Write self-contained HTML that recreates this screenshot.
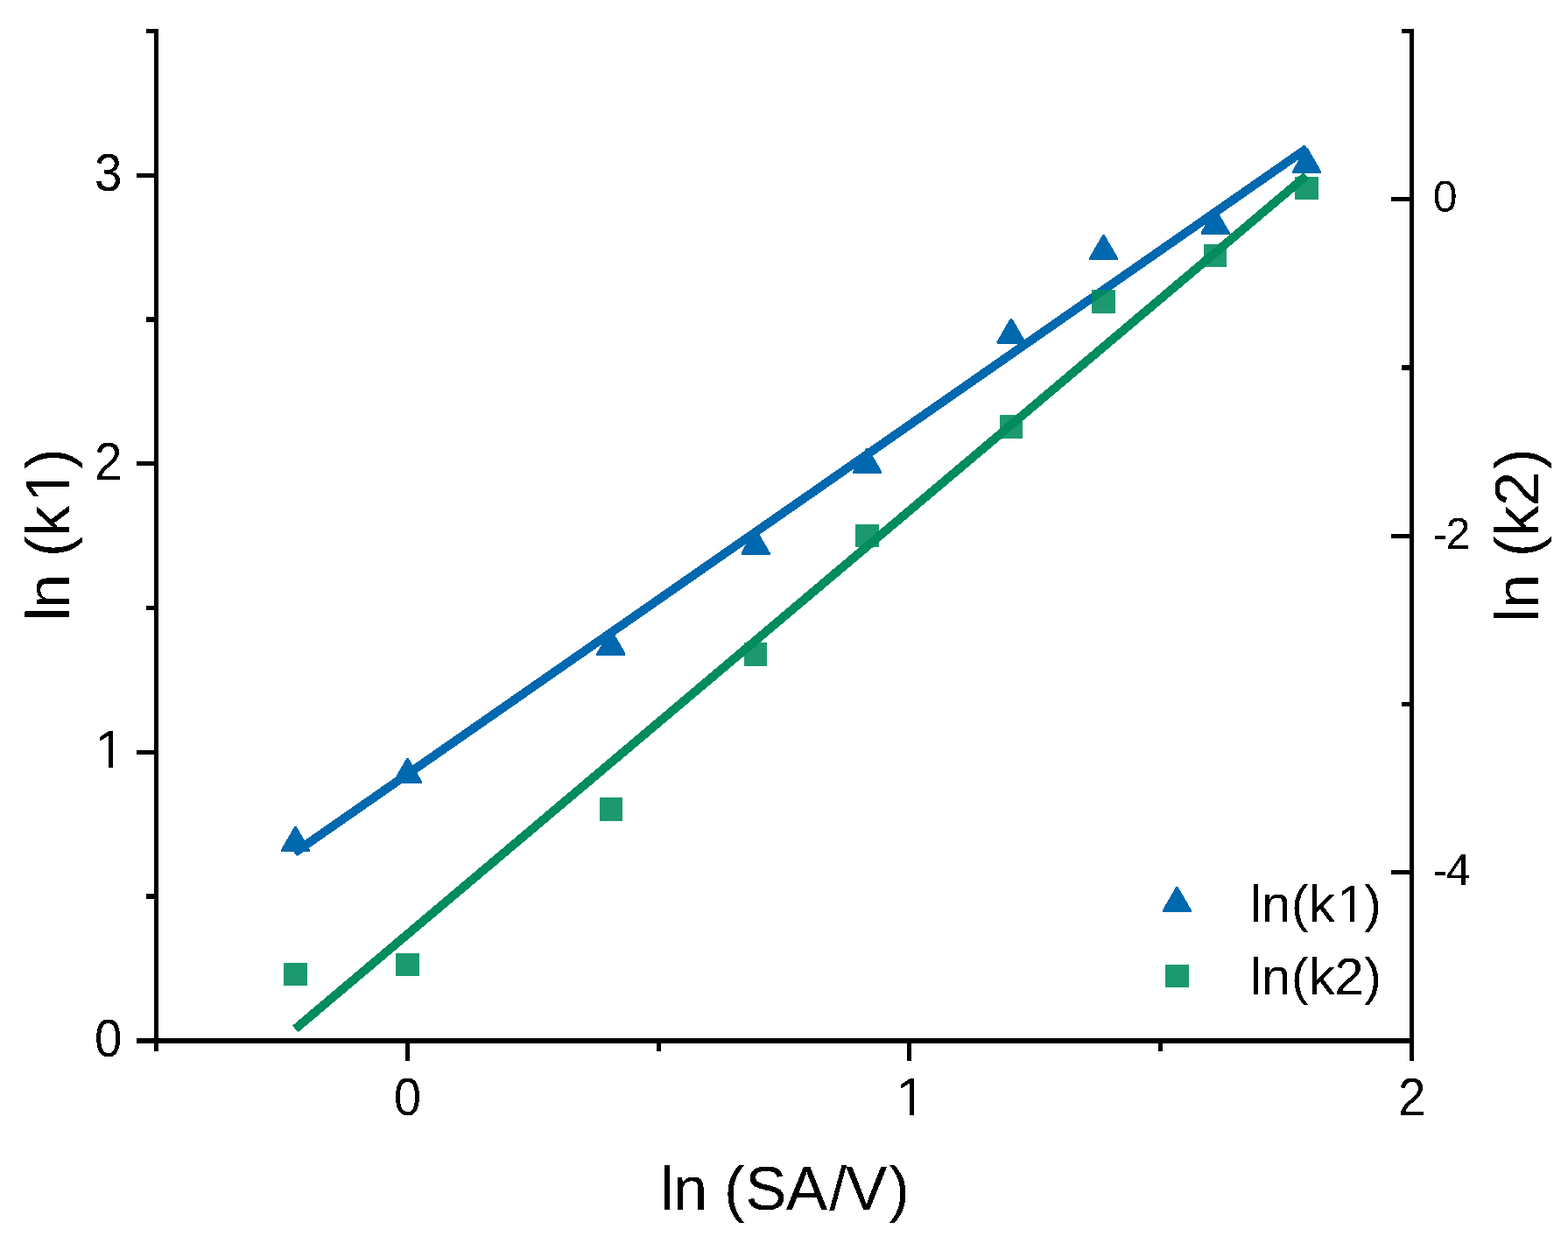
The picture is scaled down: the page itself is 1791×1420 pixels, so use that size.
<!DOCTYPE html>
<html lang="en"><head><meta charset="utf-8"><title>ln(k) vs ln(SA/V)</title>
<style>html,body{margin:0;padding:0;background:#fff;}body{width:1791px;height:1420px;overflow:hidden;}svg{display:block;}text{font-family:"Liberation Sans",Arial,Helvetica,sans-serif;fill:#000;}</style>
</head><body>
<svg width="1791" height="1420" viewBox="0 0 1791 1420" role="img" aria-label="ln(k1) and ln(k2) versus ln(SA/V)">
<defs><filter id="crisp" x="-10%" y="-10%" width="120%" height="120%" color-interpolation-filters="sRGB"><feComponentTransfer><feFuncA type="discrete" tableValues="0 1"/></feComponentTransfer></filter></defs>
<rect x="0" y="0" width="1791" height="1420" fill="#fff"/>
<g id="series-k1" shape-rendering="crispEdges">
<line x1="336.3" y1="974.3" x2="1493.0" y2="169.4" stroke="#0068AE" stroke-width="10" stroke-linecap="butt"/>
<polygon points="321.0,973.0 321.0,970.7 336.5,943.9 338.5,943.9 354.0,970.7 354.0,973.0" fill="#0068AE"/>
<polygon points="449.0,895.0 449.0,892.7 464.5,865.9 466.5,865.9 482.0,892.7 482.0,895.0" fill="#0068AE"/>
<polygon points="681.4,748.7 681.4,746.4 696.9,719.6 698.9,719.6 714.4,746.4 714.4,748.7" fill="#0068AE"/>
<polygon points="846.5,633.7 846.5,631.4 862.0,604.6 864.0,604.6 879.5,631.4 879.5,633.7" fill="#0068AE"/>
<polygon points="974.0,540.7 974.0,538.4 989.5,511.6 991.5,511.6 1007.0,538.4 1007.0,540.7" fill="#0068AE"/>
<polygon points="1138.5,392.8 1138.5,390.5 1154.0,363.7 1156.0,363.7 1171.5,390.5 1171.5,392.8" fill="#0068AE"/>
<polygon points="1244.0,297.0 1244.0,294.7 1259.5,267.9 1261.5,267.9 1277.0,294.7 1277.0,297.0" fill="#0068AE"/>
<polygon points="1371.7,267.8 1371.7,265.5 1387.2,238.7 1389.2,238.7 1404.7,265.5 1404.7,267.8" fill="#0068AE"/>
<polygon points="1476.0,197.7 1476.0,195.4 1491.5,168.6 1493.5,168.6 1509.0,195.4 1509.0,197.7" fill="#0068AE"/>
</g>
<g id="series-k2" shape-rendering="crispEdges">
<line x1="337.2" y1="1175.5" x2="1492.2" y2="200.7" stroke="#008C5C" stroke-width="10" stroke-linecap="butt"/>
<rect x="324.2" y="1099.7" width="26.6" height="26.6" fill="#008C5C" fill-opacity="0.89"/>
<rect x="452.2" y="1088.7" width="26.6" height="26.6" fill="#008C5C" fill-opacity="0.89"/>
<rect x="684.7" y="911.2" width="26.6" height="26.6" fill="#008C5C" fill-opacity="0.89"/>
<rect x="849.7" y="734.2" width="26.6" height="26.6" fill="#008C5C" fill-opacity="0.89"/>
<rect x="977.2" y="598.7" width="26.6" height="26.6" fill="#008C5C" fill-opacity="0.89"/>
<rect x="1141.7" y="474.2" width="26.6" height="26.6" fill="#008C5C" fill-opacity="0.89"/>
<rect x="1247.2" y="331.2" width="26.6" height="26.6" fill="#008C5C" fill-opacity="0.89"/>
<rect x="1374.7" y="278.7" width="26.6" height="26.6" fill="#008C5C" fill-opacity="0.89"/>
<rect x="1479.2" y="201.7" width="26.6" height="26.6" fill="#008C5C" fill-opacity="0.89"/>
</g>
<g id="axes" fill="#000" shape-rendering="crispEdges">
<rect x="176" y="33" width="5" height="1168"/>
<rect x="1610" y="33" width="5" height="1179"/>
<rect x="156" y="1186" width="1459" height="6"/>
<rect x="167" y="33" width="9" height="5"/>
<rect x="156" y="198" width="20" height="5"/>
<rect x="167" y="362" width="9" height="6"/>
<rect x="156" y="527" width="20" height="5"/>
<rect x="167" y="692" width="9" height="5"/>
<rect x="156" y="857" width="20" height="5"/>
<rect x="167" y="1021" width="9" height="6"/>
<rect x="1601" y="33" width="9" height="5"/>
<rect x="1589" y="225" width="21" height="5"/>
<rect x="1601" y="417" width="9" height="6"/>
<rect x="1589" y="610" width="21" height="5"/>
<rect x="1601" y="802" width="9" height="5"/>
<rect x="1589" y="994" width="21" height="5"/>
<rect x="463" y="1192" width="5" height="20"/>
<rect x="750" y="1192" width="5" height="9"/>
<rect x="1036" y="1192" width="5" height="20"/>
<rect x="1323" y="1192" width="5" height="9"/>
</g>
<g id="ticklabels-left" font-size="60" text-anchor="end" filter="url(#crisp)">
<text transform="translate(139.5,1207.0) scale(0.92,1)" font-size="61.4">0</text>
<text transform="translate(139.5,547.7) scale(0.92,1)" font-size="61.4">2</text>
<text transform="translate(139.5,218.0) scale(0.92,1)" font-size="61.4">3</text>
<text x="108.51" y="877.3" text-anchor="start" font-size="61.2">1</text>
</g>
<g shape-rendering="crispEdges"><rect x="111.98" y="871.53" width="11.92" height="6.97" fill="#fff"/><rect x="129.31" y="871.53" width="11.45" height="6.97" fill="#fff"/></g>
<g id="ticklabels-bottom" font-size="60" text-anchor="middle" filter="url(#crisp)">
<text transform="translate(465.5,1273.9) scale(0.92,1)" font-size="61.4">0</text>
<text transform="translate(1612.7,1273.9) scale(0.92,1)" font-size="61.4">2</text>
<text x="1023.59" y="1274.4" text-anchor="start" font-size="61.2">1</text>
</g>
<g shape-rendering="crispEdges"><rect x="1027.06" y="1268.63" width="11.92" height="6.97" fill="#fff"/><rect x="1044.39" y="1268.63" width="11.45" height="6.97" fill="#fff"/></g>
<g id="ticklabels-right" font-size="50" text-anchor="start" filter="url(#crisp)">
<text x="1636.8" y="242.45">0</text>
<text x="1636.8 1651.44" y="627.0">-2</text>
<text x="1636.8 1651.94" y="1010.5">-4</text>
</g>
<g id="titles" font-size="71" filter="url(#crisp)">
<text x="754.05 768.75 808.3 827 851.3 897.7 947.15 965.9 1015.2" y="1381.8">ln (SA/V)</text>
<text transform="translate(79.1,611) rotate(-90)" x="-98.63 -84.26 -44.8 -25.25 -2 37.01 74.99" y="0">ln (k1)</text>
<text transform="translate(1757,611) rotate(-90)" x="-99.7 -84.26 -44.8 -25.25 -2 32.86 74.99" y="0">ln (k2)</text>
</g>
<g transform="translate(79.1,611) rotate(-90)" shape-rendering="crispEdges"><rect x="41.03" y="-6.50" width="13.83" height="7.70" fill="#fff"/><rect x="61.14" y="-6.50" width="13.28" height="7.70" fill="#fff"/></g>
<g id="legend" font-size="60" shape-rendering="crispEdges">
<polygon points="1327.9,1042.0 1327.9,1039.7 1343.4,1012.9 1345.4,1012.9 1360.9,1039.7 1360.9,1042.0" fill="#0068AE"/>
<text x="1428 1440.8 1474.69 1494.75 1526.76 1558.05" y="1053.2" filter="url(#crisp)">ln(k1)</text>
<rect x="1530.16" y="1047.52" width="11.69" height="6.88" fill="#fff"/><rect x="1547.15" y="1047.52" width="11.22" height="6.88" fill="#fff"/>
<rect x="1331.2" y="1101.7" width="26.6" height="26.6" fill="#008C5C" fill-opacity="0.89"/>
<text x="1428 1440.8 1474.69 1494.75 1524.37 1558.05" y="1136.1" filter="url(#crisp)">ln(k2)</text>
</g>
</svg>
</body></html>
